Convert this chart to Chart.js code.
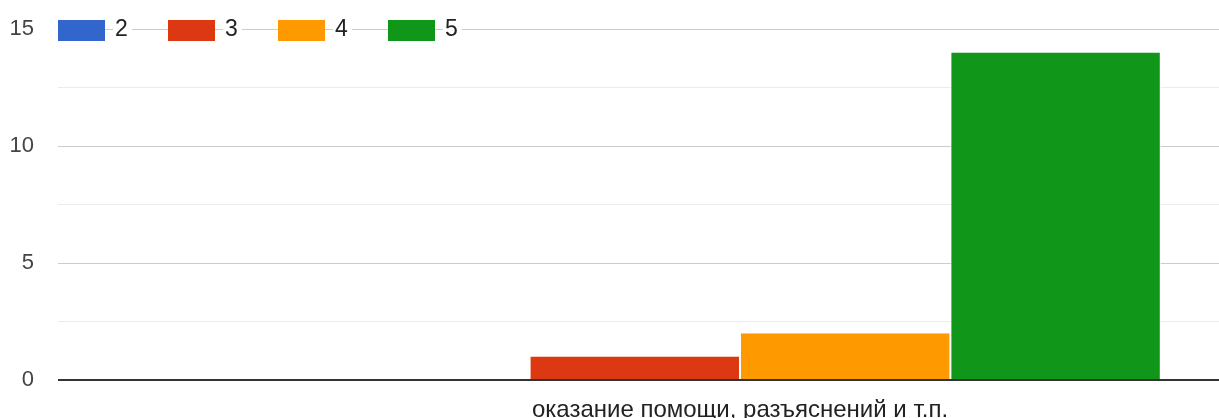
<!DOCTYPE html>
<html lang="ru">
<head>
  <meta charset="UTF-8" />
  <title>Оценки</title>
  <script src="https://cdn.jsdelivr.net/npm/chart.js"></script>
  <style>
    body, html { margin: 0; background: #fff; overflow: hidden; }
    #wrap { width: 1422px; height: 418px; }
  </style>
</head>
<body>
  <div id="wrap"><canvas id="chart" width="1422" height="418"></canvas></div>
  <script>
    const categories = ['оказание помощи, разъяснений и т.п.'];
    const seriesNames = ['2', '3', '4', '5'];
    const seriesColors = ['#3366cc', '#dc3912', '#ff9900', '#109618'];
    const values2 = [0];
    const values3 = [1];
    const values4 = [2];
    const values5 = [14];
    const yTicks = [0, 5, 10, 15];

    const FONT = '"Liberation Sans", Arial, sans-serif';

    // legend drawn on the top gridline, like the original
    const inlineLegend = {
      id: 'inlineLegend',
      afterDraw(chart) {
        const c = chart.ctx;
        const y = chart.scales.y.getPixelForValue(15);
        c.save();
        c.font = '23px ' + FONT;
        c.textBaseline = 'middle';
        chart.data.datasets.forEach((ds, i) => {
          const x0 = chart.chartArea.left + i * 110;
          c.fillStyle = ds.backgroundColor;
          c.fillRect(x0, y - 9, 47, 21);
          const tx = x0 + 57;
          const w = c.measureText(ds.label).width;
          c.fillStyle = '#fff';
          c.fillRect(tx - 2, y - 13, w + 6, 26);
          c.fillStyle = '#222';
          c.fillText(ds.label, tx, y + 1);
        });
        c.restore();
      }
    };

    const allValues = [values2, values3, values4, values5];

    new Chart(document.getElementById('chart'), {
      type: 'bar',
      data: {
        labels: categories,
        datasets: seriesNames.map((name, i) => ({
          label: name,
          data: allValues[i],
          backgroundColor: seriesColors[i],
          borderColor: '#fff',
          borderWidth: { left: 1, right: 1, top: 0, bottom: 0 },
          borderSkipped: 'bottom',
          categoryPercentage: 0.617,
          barPercentage: 1
        }))
      },
      options: {
        responsive: false,
        animation: false,
        layout: { padding: { top: 29, right: 0, left: 0, bottom: 0 } },
        plugins: { legend: { display: false }, tooltip: { enabled: false } },
        scales: {
          x: {
            grid: { display: false, drawTicks: false },
            border: { display: false },
            ticks: { color: '#222', font: { family: FONT, size: 24 }, padding: 16 },
            afterFit: s => { s.height = 38; s.paddingLeft = 0; s.paddingRight = 0; }
          },
          y: {
            min: 0,
            max: 15,
            afterBuildTicks: s => {
              const t = [];
              for (let v = 0; v <= 15; v += 2.5) t.push({ value: v });
              s.ticks = t;
            },
            grid: {
              drawTicks: false,
              color: ctx => ctx.tick.value === 0 ? '#333' : (yTicks.includes(ctx.tick.value) ? '#cccccc' : '#ebebeb'),
              lineWidth: ctx => ctx.tick.value === 0 ? 2 : 1
            },
            border: { display: false },
            ticks: {
              color: '#444',
              font: { family: FONT, size: 22 },
              padding: 24,
              callback: v => yTicks.includes(v) ? String(v) : ''
            },
            afterFit: s => { s.width = 58; s.paddingTop = 0; s.paddingBottom = 0; }
          }
        }
      },
      plugins: [inlineLegend]
    });
  </script>
</body>
</html>
